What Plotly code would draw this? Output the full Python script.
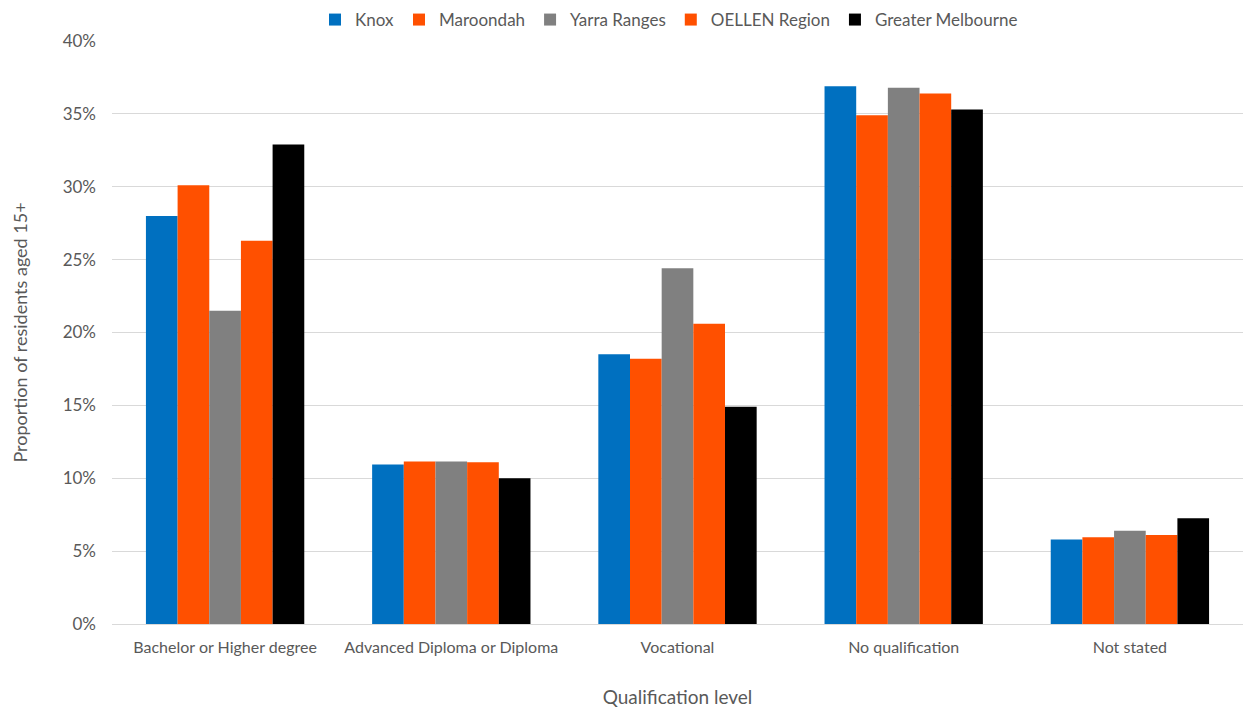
import plotly.graph_objects as go

categories = ["Bachelor or Higher degree", "Advanced Diploma or Diploma", "Vocational", "No qualification", "Not stated"]
knox = [28.0, 10.95, 18.5, 36.9, 5.8]
maroondah = [30.1, 11.15, 18.2, 34.9, 5.95]
yarra_ranges = [21.5, 11.15, 24.4, 36.8, 6.4]
oellen = [26.3, 11.1, 20.6, 36.4, 6.1]
greater_melbourne = [32.9, 10.0, 14.9, 35.3, 7.25]

series = [
    ("Knox", knox, "#0070C0"),
    ("Maroondah", maroondah, "#FF5000"),
    ("Yarra Ranges", yarra_ranges, "#808080"),
    ("OELLEN Region", oellen, "#FF5000"),
    ("Greater Melbourne", greater_melbourne, "#000000"),
]

fig = go.Figure()
for name, vals, color in series:
    fig.add_trace(go.Bar(
        name=name, x=categories, y=[v / 100 for v in vals],
        marker=dict(color=color, line=dict(width=0)),
    ))

font_family = "Lato, 'Open Sans', sans-serif"
fig.update_layout(
    barmode="group",
    bargap=0.3,
    bargroupgap=0,
    width=1243, height=708,
    margin=dict(l=112, r=0, t=41, b=84),
    plot_bgcolor="white",
    paper_bgcolor="white",
    font=dict(family=font_family, color="#595959", size=15),
    legend=dict(
        orientation="h", x=0.4925, xanchor="center", y=1.036, yanchor="middle",
        font=dict(size=17, color="#595959"), itemwidth=30,
        traceorder="normal",
    ),
    xaxis=dict(
        title=dict(text="Qualification level", font=dict(size=19, color="#595959"), standoff=36),
        showgrid=False, showline=True, linecolor="#D9D9D9", linewidth=1,
        tickfont=dict(size=16, color="#595959"), ticks="", ticklabelstandoff=9,
    ),
    yaxis=dict(
        range=[0, 0.40], dtick=0.05, tickformat=".0%",
        showgrid=True, gridcolor="#D9D9D9", gridwidth=1,
        zeroline=False, showline=False,
        title=dict(text="Proportion of residents aged 15+", font=dict(size=18, color="#595959"), standoff=30),
        tickfont=dict(size=17, color="#595959"), ticks="", ticklabelstandoff=15,
    ),
)

fig.write_html("out.html")
